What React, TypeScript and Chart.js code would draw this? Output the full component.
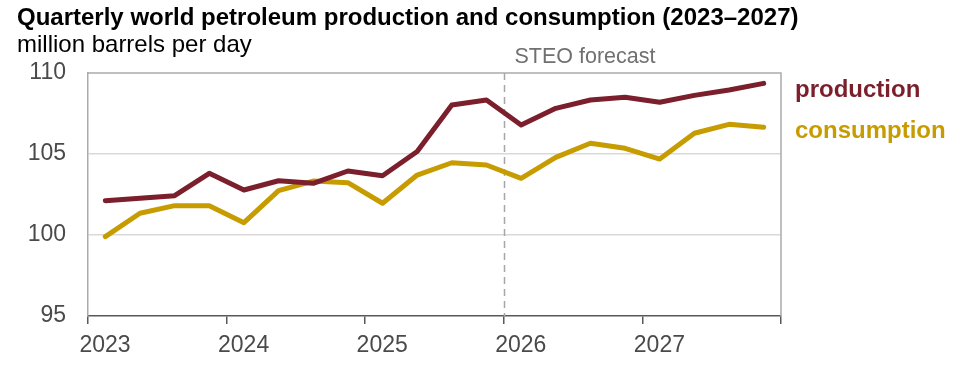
import React, { useEffect, useRef } from "react";
import { Chart, registerables } from "chart.js";

Chart.register(...registerables);

const quarterLabels = [
  "2023Q1", "2023Q2", "2023Q3", "2023Q4",
  "2024Q1", "2024Q2", "2024Q3", "2024Q4",
  "2025Q1", "2025Q2", "2025Q3", "2025Q4",
  "2026Q1", "2026Q2", "2026Q3", "2026Q4",
  "2027Q1", "2027Q2", "2027Q3", "2027Q4",
];
const production = [102.12, 102.27, 102.43, 103.81, 102.78, 103.35, 103.19, 103.95, 103.66, 105.15, 108.02, 108.33, 106.79, 107.82, 108.33, 108.5, 108.19, 108.62, 108.95, 109.36];
const consumption = [99.9, 101.34, 101.81, 101.81, 100.76, 102.74, 103.33, 103.23, 101.96, 103.7, 104.46, 104.32, 103.5, 104.79, 105.66, 105.35, 104.69, 106.28, 106.83, 106.65];
const yearTicks = [2023, 2024, 2025, 2026, 2027];
const forecastStart = 2026;

const TITLE = "Quarterly world petroleum production and consumption (2023–2027)";
const SUBTITLE = "million barrels per day";
const FORECAST_LABEL = "STEO forecast";

const PROD_COLOR = "#7B1F2C";
const CONS_COLOR = "#C79C00";
const FONT = '"Liberation Sans", Arial, sans-serif';

function quarterToX(label: string): number {
  const y = parseInt(label.slice(0, 4), 10);
  const q = parseInt(label.slice(5), 10);
  return y + (q - 0.5) / 4;
}

export default function App() {
  const ref = useRef<HTMLCanvasElement | null>(null);

  useEffect(() => {
    if (!ref.current) return;
    const decor = {
      id: "decor",
      beforeDatasetsDraw(chart: any) {
        const { ctx, chartArea, scales } = chart;
        const x = scales.x.getPixelForValue(forecastStart);
        ctx.save();
        ctx.strokeStyle = "#A6A6A6";
        ctx.lineWidth = 1.5;
        ctx.setLineDash([7, 5]);
        ctx.beginPath();
        ctx.moveTo(Math.round(x) + 0.5, chartArea.top);
        ctx.lineTo(Math.round(x) + 0.5, chartArea.bottom);
        ctx.stroke();
        ctx.setLineDash([]);
        ctx.strokeStyle = "#ABABAB";
        ctx.lineWidth = 1.5;
        ctx.beginPath();
        ctx.moveTo(chartArea.left, chartArea.top);
        ctx.lineTo(chartArea.right, chartArea.top);
        ctx.lineTo(chartArea.right, chartArea.bottom);
        ctx.stroke();
        ctx.restore();
      },
      afterDraw(chart: any) {
        const { ctx } = chart;
        ctx.save();
        ctx.textAlign = "left";
        ctx.textBaseline = "alphabetic";
        ctx.fillStyle = "#000";
        ctx.font = `bold 24px ${FONT}`;
        ctx.fillText(TITLE, 17, 25);
        ctx.font = `24px ${FONT}`;
        ctx.fillText(SUBTITLE, 17, 52);
        ctx.fillStyle = "#707070";
        ctx.font = `21.5px ${FONT}`;
        ctx.textAlign = "center";
        ctx.fillText(FORECAST_LABEL, 585, 63);
        ctx.textAlign = "left";
        ctx.font = `bold 24px ${FONT}`;
        ctx.fillStyle = PROD_COLOR;
        ctx.fillText("production", 795, 97);
        ctx.fillStyle = CONS_COLOR;
        ctx.fillText("consumption", 795, 138);
        ctx.restore();
      },
    };

    const chart = new Chart(ref.current, {
      type: "line",
      data: {
        datasets: [
          {
            label: "production",
            data: quarterLabels.map((q, i) => ({ x: quarterToX(q), y: production[i] })),
            borderColor: PROD_COLOR,
            borderWidth: 5,
            pointRadius: 0,
            borderCapStyle: "round",
            borderJoinStyle: "round",
            tension: 0,
          },
          {
            label: "consumption",
            data: quarterLabels.map((q, i) => ({ x: quarterToX(q), y: consumption[i] })),
            borderColor: CONS_COLOR,
            borderWidth: 5,
            pointRadius: 0,
            borderCapStyle: "round",
            borderJoinStyle: "round",
            tension: 0,
          },
        ],
      },
      options: {
        animation: false,
        responsive: false,
        maintainAspectRatio: false,
        layout: { padding: { left: 0, top: 73, right: 193, bottom: 0 } },
        plugins: { legend: { display: false }, tooltip: { enabled: false }, title: { display: false } },
        scales: {
          x: {
            type: "linear",
            min: 2023,
            max: 2028,
            afterFit(scale: any) {
              scale.height = 53;
            },
            afterBuildTicks(scale: any) {
              scale.ticks = [...yearTicks, 2028].map((v) => ({ value: v }));
            },
            ticks: {
              autoSkip: false,
              maxRotation: 0,
              labelOffset: 17,
              padding: 8,
              color: "#4A4A4A",
              font: { family: FONT, size: 23 },
              callback: (v: any) => (yearTicks.includes(Number(v)) ? String(v) : ""),
            },
            grid: {
              drawOnChartArea: false,
              drawTicks: true,
              tickLength: 8,
              color: "#595959",
              lineWidth: 1.5,
            },
            border: { display: true, color: "#595959", width: 1.5 },
          },
          y: {
            min: 95,
            max: 110,
            afterFit(scale: any) {
              scale.width = 88;
            },
            ticks: {
              stepSize: 5,
              padding: 22,
              color: "#4A4A4A",
              font: { family: FONT, size: 23 },
            },
            grid: {
              drawTicks: false,
              color: (c: any) => (c.tick && (c.tick.value === 100 || c.tick.value === 105) ? "#D9D9D9" : "rgba(0,0,0,0)"),
              lineWidth: 1.5,
            },
            border: { display: true, color: "#ABABAB", width: 1.5 },
          },
        },
      },
      plugins: [decor],
    } as any);
    return () => chart.destroy();
  }, []);

  return (
    <div style={{ position: "fixed", left: 0, top: 0, width: 974, height: 369, background: "#fff" }}>
      <canvas ref={ref} width={974} height={369} style={{ display: "block", width: 974, height: 369 }} />
    </div>
  );
}
